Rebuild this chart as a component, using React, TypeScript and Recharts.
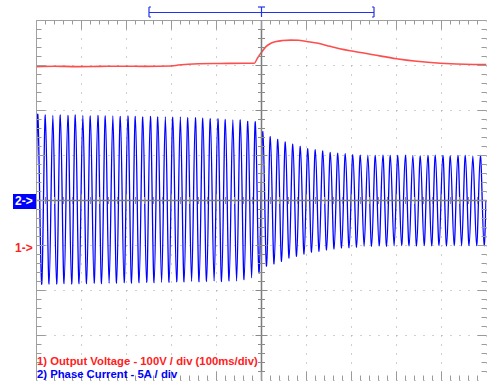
import { CartesianGrid, Line, LineChart, ReferenceLine, XAxis, YAxis } from "recharts";

const WIDTH = 487;
const HEIGHT = 381;
// half-pixel offsets keep the 1px graticule lines crisp
const MARGIN = { top: 20.5, right: 0.5, bottom: 0.5, left: 36.5 };
const PLOT_W = WIDTH - MARGIN.left - MARGIN.right;
const PLOT_H = HEIGHT - MARGIN.top - MARGIN.bottom;

// scope graticule: 10 x 8 divisions, 5 subdivisions each
const DIVS_X = 10;
const DIVS_Y = 8;
const SUBDIV = 5;
const MS_PER_DIV = 100;
const TIME_SPAN = DIVS_X * MS_PER_DIV;
const TRIGGER_MS = 500;

// channel 1: 100 V/div, ground one division below centre
const VOLT_DOMAIN = [-300, 500];
// channel 2: 5 A/div, ground at centre
const AMP_DOMAIN = [-20, 20];

// output voltage, time (ms) / volts
const VOLT_T = [0, 40, 90, 140, 190, 240, 300, 315, 360, 410, 460, 484, 491, 499, 510, 522, 533, 547, 565, 582, 600, 626, 652, 674, 704, 748, 800, 845, 897, 971, 1000];
const VOLT_V = [397.5, 398.5, 397.5, 398, 398.5, 398, 399, 401, 404, 404.5, 405, 405, 416.5, 428, 442, 450, 453.5, 455.5, 456.5, 456, 453.3, 449.3, 442.7, 437.3, 431.6, 424, 415, 409.3, 405, 402.2, 402];

// phase current, 60 Hz: peak amps per cycle
const CYCLE_MS = 1000 / 60;
const FIRST_PEAK_MS = 3;
const CURRENT_AT_START = 4;
const POS_PEAKS = [
  9.5, 9.5, 9.45, 9.5, 9.45, 9.5, 9.45, 9.4, 9.45, 9.4,
  9.4, 9.35, 9.4, 9.35, 9.3, 9.35, 9.3, 9.3, 9.25, 9.3,
  9.2, 9.2, 9.15, 9.1, 9.1, 9.0, 8.95, 8.95, 8.8, 8.75,
  7.65, 7.1, 6.8, 6.5, 6.25, 6.0, 5.75, 5.65, 5.5, 5.35,
  5.25, 5.2, 5.1, 5.05, 5.05, 5.0, 5.05, 5.0, 5.0, 5.05,
  5.0, 4.95, 5.0, 5.05, 5.0, 4.95, 5.0, 5.0, 4.95, 5.0,
];
const NEG_PEAKS = [
  -9.3, -9.3, -9.3, -9.25, -9.3, -9.25, -9.25, -9.2, -9.25, -9.2,
  -9.2, -9.15, -9.2, -9.15, -9.1, -9.15, -9.1, -9.1, -9.05, -9.05,
  -9.0, -9.05, -9.0, -8.95, -9.0, -8.95, -8.95, -8.8, -8.6, -8.05,
  -7.3, -7.05, -6.75, -6.4, -6.2, -5.95, -5.75, -5.65, -5.5, -5.4,
  -5.3, -5.25, -5.2, -5.1, -5.1, -5.05, -5.1, -5.05, -5.0, -5.05,
  -5.05, -5.0, -5.05, -5.0, -5.05, -5.0, -5.05, -5.0, -5.0, -5.05,
];

// time-window cursor above the screen (ms)
const CURSOR_START = 250;
const CURSOR_END = 750;

const voltData = VOLT_T.map((t, i) => ({ t, v: VOLT_V[i] }));

const ampData: { t: number; a: number }[] = [{ t: 0, a: CURRENT_AT_START }];
POS_PEAKS.forEach((peak, k) => {
  const tp = FIRST_PEAK_MS + k * CYCLE_MS;
  ampData.push({ t: tp, a: peak });
  ampData.push({ t: tp + CYCLE_MS / 4, a: 0 });
  ampData.push({ t: tp + CYCLE_MS / 2, a: NEG_PEAKS[k] });
  const tz = tp + (3 * CYCLE_MS) / 4;
  if (tz <= TIME_SPAN) ampData.push({ t: tz, a: 0 });
});

const pxToMs = (px: number) => (px * TIME_SPAN) / PLOT_W;
const pxToDiv = (px: number) => (px * DIVS_Y) / PLOT_H;

type Pt = { x: number; y: number };
type Seg = [Pt, Pt];

const TOP = DIVS_Y / 2;
const BOTTOM = -DIVS_Y / 2;

const edgeTicks: Seg[] = [];
const centreTicks: Seg[] = [];

for (let i = 1; i < DIVS_X * SUBDIV; i++) {
  const t = (i * MS_PER_DIV) / SUBDIV;
  const major = i % SUBDIV === 0;
  edgeTicks.push([{ x: t, y: TOP }, { x: t, y: TOP - pxToDiv(major ? 9 : 4) }]);
  edgeTicks.push([{ x: t, y: BOTTOM }, { x: t, y: BOTTOM + pxToDiv(major ? 9 : 5) }]);
  if (t !== TRIGGER_MS) {
    const h = pxToDiv(major ? 6 : 3.5);
    centreTicks.push([{ x: t, y: -h }, { x: t, y: h }]);
  }
}
for (let j = 1; j < DIVS_Y * SUBDIV; j++) {
  const d = (j - (DIVS_Y * SUBDIV) / 2) / SUBDIV;
  const major = j % SUBDIV === 0;
  edgeTicks.push([{ x: 0, y: d }, { x: pxToMs(major ? 9 : 5), y: d }]);
  edgeTicks.push([{ x: TIME_SPAN, y: d }, { x: TIME_SPAN - pxToMs(major ? 9 : 5), y: d }]);
  if (d !== 0) {
    const w = pxToMs(major ? 6 : 3.5);
    centreTicks.push([{ x: TRIGGER_MS - w, y: d }, { x: TRIGGER_MS + w, y: d }]);
  }
}

const barY = TOP + pxToDiv(8);
const capTop = TOP + pxToDiv(13.5);
const capBottom = TOP + pxToDiv(3.5);
const serif = pxToMs(2);
const cursorMarks: Seg[] = [
  [{ x: CURSOR_START, y: barY }, { x: CURSOR_END, y: barY }],
  [{ x: CURSOR_START, y: capTop }, { x: CURSOR_START, y: capBottom }],
  [{ x: CURSOR_START, y: capTop }, { x: CURSOR_START + serif, y: capTop }],
  [{ x: CURSOR_START, y: capBottom }, { x: CURSOR_START + serif, y: capBottom }],
  [{ x: CURSOR_END, y: capTop }, { x: CURSOR_END, y: capBottom }],
  [{ x: CURSOR_END, y: capTop }, { x: CURSOR_END - serif, y: capTop }],
  [{ x: CURSOR_END, y: capBottom }, { x: CURSOR_END - serif, y: capBottom }],
  [{ x: TRIGGER_MS - pxToMs(3.5), y: capTop }, { x: TRIGGER_MS + pxToMs(3.5), y: capTop }],
  [{ x: TRIGGER_MS, y: capTop }, { x: TRIGGER_MS, y: capBottom }],
];

const majorX = Array.from({ length: DIVS_X - 1 }, (_, i) => (i + 1) * MS_PER_DIV);
const majorY = Array.from({ length: DIVS_Y - 1 }, (_, i) => i + 1 - DIVS_Y / 2);

const FONT = "'Liberation Sans', Arial, sans-serif";
const RED = "#ff2020";
const BLUE = "#0000ff";

export default function App() {
  return (
    <div
      style={{
        position: "fixed",
        left: 0,
        top: 0,
        width: WIDTH,
        height: HEIGHT,
        overflow: "hidden",
        background: "#fff",
        fontFamily: FONT,
      }}
    >
      <LineChart width={WIDTH} height={HEIGHT} margin={MARGIN}>
        <XAxis
          dataKey="t"
          type="number"
          domain={[0, TIME_SPAN]}
          ticks={majorX}
          allowDataOverflow
          hide
        />
        <YAxis yAxisId="div" type="number" domain={[BOTTOM, TOP]} ticks={majorY} allowDataOverflow hide />
        <YAxis yAxisId="volt" type="number" domain={VOLT_DOMAIN} allowDataOverflow hide />
        <YAxis yAxisId="amp" type="number" domain={AMP_DOMAIN} allowDataOverflow hide />
        <CartesianGrid yAxisId="div" stroke="#a0a0a0" strokeDasharray="1 8" />
        <Line
          data={voltData}
          dataKey="v"
          yAxisId="volt"
          type="monotone"
          stroke={RED}
          strokeOpacity={0.8}
          strokeWidth={1.6}
          dot={false}
          isAnimationActive={false}
        />
        <Line
          data={ampData}
          dataKey="a"
          yAxisId="amp"
          type="natural"
          stroke={BLUE}
          strokeWidth={1.3}
          dot={false}
          isAnimationActive={false}
        />
        <ReferenceLine yAxisId="div" y={TOP} stroke="#a0a0a0" ifOverflow="visible" />
        <ReferenceLine yAxisId="div" x={0} stroke="#a0a0a0" ifOverflow="visible" />
        <ReferenceLine yAxisId="div" y={0} stroke="#7a7a7a" strokeWidth={1.5} />
        <ReferenceLine yAxisId="div" x={TRIGGER_MS} stroke="#7a7a7a" strokeWidth={1.5} />
        {edgeTicks.map((seg, i) => (
          <ReferenceLine key={`e${i}`} yAxisId="div" segment={seg} stroke="#9a9a9a" ifOverflow="visible" />
        ))}
        {centreTicks.map((seg, i) => (
          <ReferenceLine key={`c${i}`} yAxisId="div" segment={seg} stroke="#8a8a8a" ifOverflow="visible" />
        ))}
        {cursorMarks.map((seg, i) => (
          <ReferenceLine key={`m${i}`} yAxisId="div" segment={seg} stroke="#2233ee" strokeWidth={1.2} ifOverflow="visible" />
        ))}
      </LineChart>

      <div
        style={{
          position: "absolute",
          left: 13,
          top: 194,
          width: 23,
          height: 15,
          background: BLUE,
          color: "#fff",
          fontWeight: 700,
          fontSize: 12,
          lineHeight: "15px",
          paddingLeft: 2,
          boxSizing: "border-box",
        }}
      >
        {"2->"}
      </div>
      <div
        style={{
          position: "absolute",
          left: 15,
          top: 241.5,
          color: RED,
          fontWeight: 700,
          fontSize: 12,
          lineHeight: "12px",
        }}
      >
        {"1->"}
      </div>
      <div
        style={{
          position: "absolute",
          left: 37,
          top: 356,
          color: RED,
          fontWeight: 700,
          fontSize: 11.3,
          lineHeight: "11px",
          whiteSpace: "nowrap",
        }}
      >
        1) Output Voltage - 100V / div (100ms/div)
      </div>
      <div
        style={{
          position: "absolute",
          left: 37,
          top: 369,
          color: BLUE,
          fontWeight: 700,
          fontSize: 11.3,
          lineHeight: "11px",
          whiteSpace: "nowrap",
        }}
      >
        2) Phase Current - 5A / div
      </div>
    </div>
  );
}
